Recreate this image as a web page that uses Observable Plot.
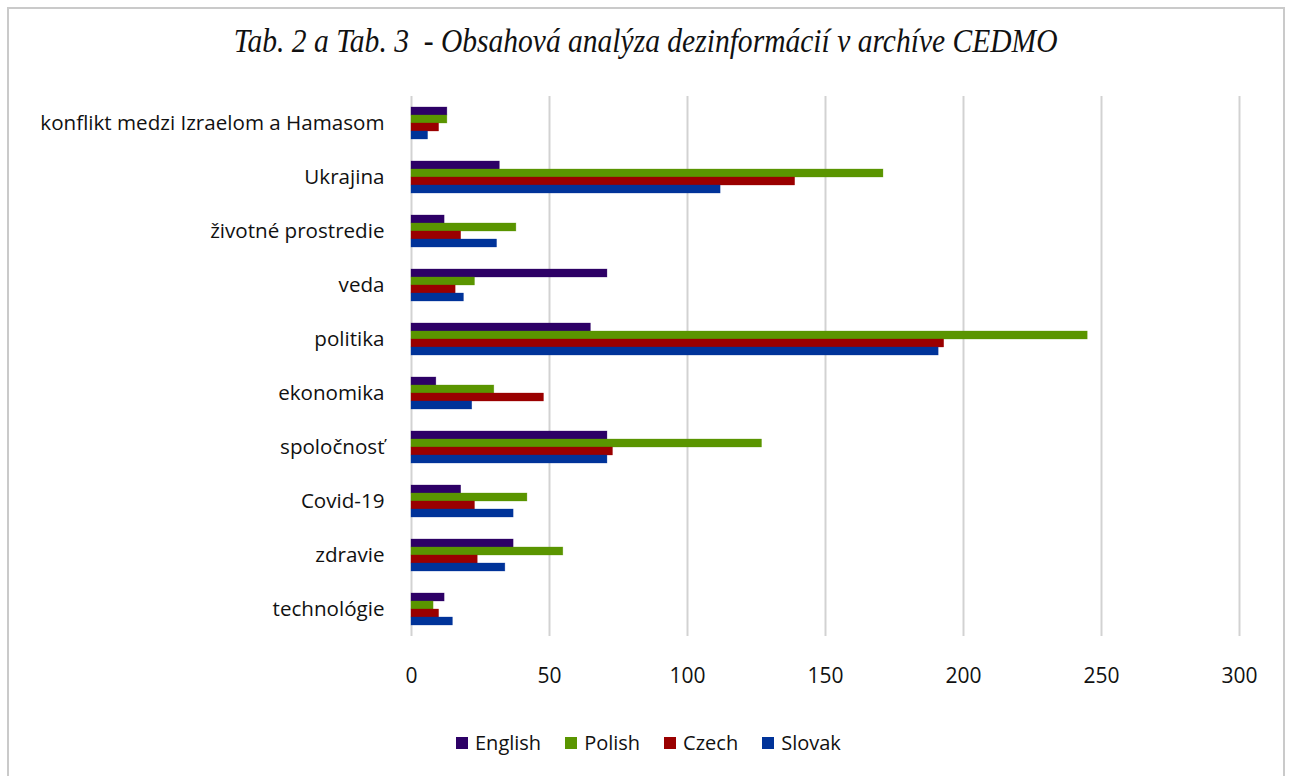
<!DOCTYPE html>
<html>
<head>
<meta charset="utf-8">
<script src="https://cdn.jsdelivr.net/npm/d3@7"></script>
<script src="https://cdn.jsdelivr.net/npm/@observablehq/plot@0.6"></script>
<style>
  html, body { margin: 0; padding: 0; background: #fff; }
  #frame { position: absolute; left: 7px; top: 7px; width: 1278px; height: 780px; box-sizing: border-box; border: 2px solid #cacaca; }
  #title { position: absolute; left: 0; width: 1291px; top: 23px; text-align: center; font-family: "Liberation Serif", serif; font-style: italic; font-size: 33px; color: #111; white-space: pre; transform: scaleX(0.895); transform-origin: 647px 0; }
  #chart { position: absolute; left: 0; top: 0; }
  #legend { position: absolute; left: 456px; top: 726px; }
  .lg-swatch { margin-right: 24px !important; }
  .lg-swatch > svg { margin-right: 7px !important; }
</style>
</head>
<body>
<div id="frame"></div>
<div id="chart"></div>
<div id="title">Tab. 2 a Tab. 3  - Obsahová analýza dezinformácií v archíve CEDMO</div>
<div id="legend"></div>
<script>
const categories = ["konflikt medzi Izraelom a Hamasom", "Ukrajina", "životné prostredie", "veda", "politika", "ekonomika", "spoločnosť", "Covid-19", "zdravie", "technológie"];
const series = ["English", "Polish", "Czech", "Slovak"];
const english = [13, 32, 12, 71, 65, 9, 71, 18, 37, 12];
const polish  = [13, 171, 38, 23, 245, 30, 127, 42, 55, 8];
const czech   = [10, 139, 18, 16, 193, 48, 73, 23, 24, 10];
const slovak  = [6, 112, 31, 19, 191, 22, 71, 37, 34, 15];
const colors = ["#2D0066", "#5A9500", "#9A0000", "#003399"];
const xTicks = [0, 50, 100, 150, 200, 250, 300];

const valuesBySeries = [english, polish, czech, slovak];
const data = [];
categories.forEach((c, i) => {
  series.forEach((s, j) => data.push({category: c, series: s, value: valuesBySeries[j][i]}));
});

const font = "'Open Sans', sans-serif";

const chart = Plot.plot({
  width: 1291,
  height: 700,
  marginTop: 93,
  marginLeft: 411,
  marginRight: 52,
  marginBottom: 61,
  style: {fontFamily: font, background: "transparent", color: "#111"},
  x: {domain: [0, 300], axis: null},
  y: {domain: series, axis: null, paddingInner: 0, paddingOuter: 1.1},
  fy: {domain: categories, padding: 0, axis: null},
  color: {domain: series, range: colors},
  marks: [
    Plot.gridX(xTicks, {stroke: "#d2d2d2", strokeOpacity: 1, strokeWidth: 2}),
    Plot.barX(data, {x: "value", y: "series", fy: "category", fill: "series", stroke: "series", strokeOpacity: 0.5, strokeWidth: 0.6}),
    Plot.axisX(xTicks, {tickSize: 0, tickPadding: 32, label: null, fontSize: 21, fontFamily: font, fill: "#111"}),
    Plot.axisFy({anchor: "left", tickSize: 0, tickPadding: 27, label: null, fontSize: 20.6, fontFamily: font, fill: "#111"})
  ]
});
document.getElementById("chart").appendChild(chart);

const legend = Plot.legend({
  color: {domain: series, range: colors},
  legend: "swatches",
  swatchSize: 12,
  className: "lg",
  style: {fontFamily: font, fontSize: "20px", color: "#111", background: "transparent"}
});
document.getElementById("legend").appendChild(legend);
</script>
</body>
</html>
